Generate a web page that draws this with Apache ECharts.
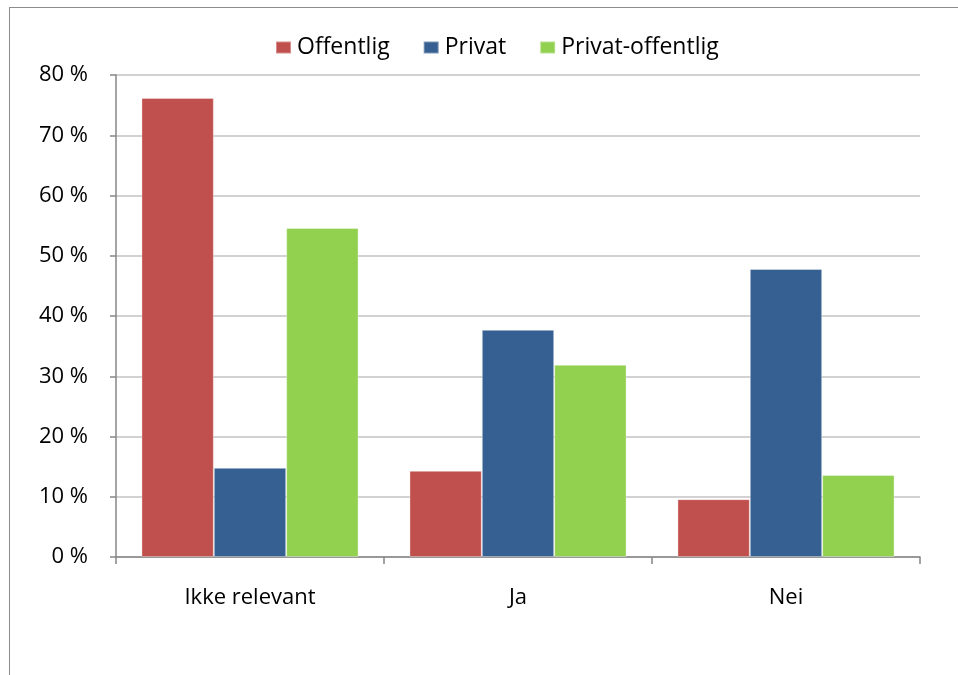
<!DOCTYPE html>
<html>
<head>
<meta charset="utf-8">
<style>
  html, body { margin: 0; padding: 0; background: #fff; }
  #frame { position: absolute; left: 9px; top: 7px; width: 1000px; height: 700px;
           border-left: 1px solid #8c8c8c; border-top: 1px solid #8c8c8c; box-sizing: border-box; }
  #chart { position: absolute; left: 0; top: 0; width: 958px; height: 675px; }
</style>
<script src="https://cdn.jsdelivr.net/npm/echarts@6/dist/echarts.min.js"></script>
</head>
<body>
<div id="frame"></div>
<div id="chart"></div>
<script>
// Svar fordelt på sektor
const categories = ['Ikke relevant', 'Ja', 'Nei'];
const offentlig = [76.2, 14.3, 9.6];
const privat = [14.8, 37.7, 47.8];
const privatOffentlig = [54.6, 31.9, 13.6];
const yTicks = [0, 10, 20, 30, 40, 50, 60, 70, 80];

const font = '"Open Sans", "Noto Sans", sans-serif';
const chart = echarts.init(document.getElementById('chart'), null, { renderer: 'canvas' });

function bar(name, data, color) {
  return {
    name: name,
    type: 'bar',
    data: data,
    barGap: '0%',
    barCategoryGap: '19%',
    itemStyle: { color: color, borderColor: 'rgba(255,255,255,0.35)', borderWidth: 1 }
  };
}

chart.setOption({
  animation: false,
  textStyle: { fontFamily: font },
  legend: {
    top: 36,
    left: 275,
    padding: 0,
    icon: 'rect',
    itemWidth: 15,
    itemHeight: 12,
    itemGap: 33,
    textStyle: { fontSize: 23, color: '#000', fontFamily: font, padding: [0, 0, 0, 1] },
    data: ['Offentlig', 'Privat', 'Privat-offentlig']
  },
  grid: { left: 116, right: 38, top: 75, bottom: 118, containLabel: false },
  xAxis: {
    type: 'category',
    data: categories,
    axisLine: { lineStyle: { color: '#868686', width: 1.5 } },
    axisTick: { show: true, length: 7, lineStyle: { color: '#868686', width: 1.5 } },
    axisLabel: { fontSize: 22, color: '#000', margin: 30, fontFamily: font },
    splitLine: { show: false }
  },
  yAxis: {
    type: 'value',
    min: yTicks[0],
    max: yTicks[yTicks.length - 1],
    interval: 10,
    axisLine: { show: true, lineStyle: { color: '#868686', width: 1.5 } },
    axisTick: { show: true, length: 6, lineStyle: { color: '#868686', width: 1.5 } },
    axisLabel: { fontSize: 22, color: '#000', margin: 28, fontFamily: font,
                 formatter: v => v + ' %' },
    splitLine: { show: true, lineStyle: { color: '#c3c3c3', width: 1.5 } }
  },
  series: [
    bar('Offentlig', offentlig, '#c0504d'),
    bar('Privat', privat, '#366092'),
    bar('Privat-offentlig', privatOffentlig, '#92d050')
  ]
});
</script>
</body>
</html>
